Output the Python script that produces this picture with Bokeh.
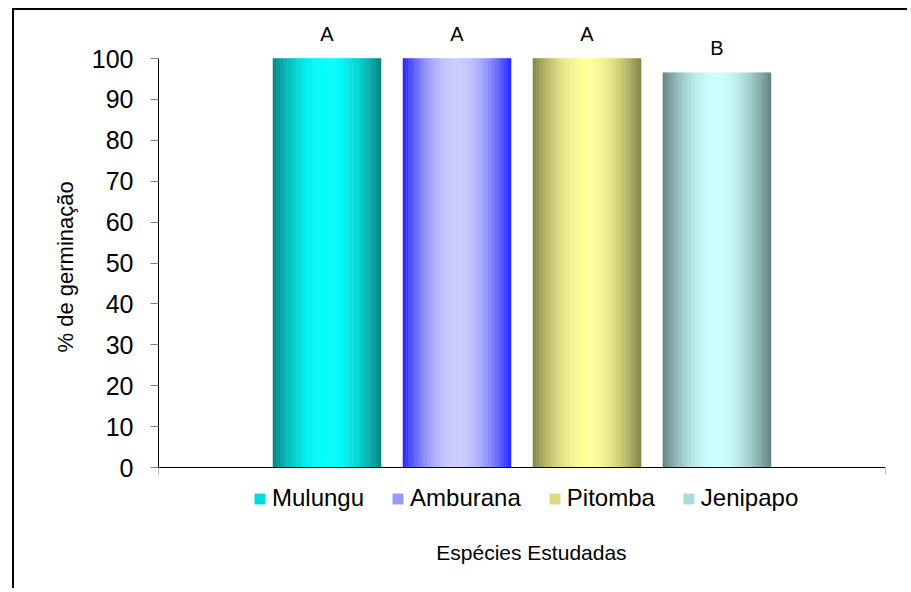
import math
from bokeh.plotting import figure
from bokeh.models import (Range1d, FixedTicker, Legend, LegendItem, LabelSet,
                          ColumnDataSource, Label, LinearAxis, Title)
from bokeh.core.properties import value
from bokeh.embed import file_html
from bokeh.resources import INLINE

# ---- data ----
species = ["Mulungu", "Amburana", "Pitomba", "Jenipapo"]
germination = [100, 100, 100, 96.5]
letters = ["A", "A", "A", "B"]
y_ticks = [0, 10, 20, 30, 40, 50, 60, 70, 80, 90, 100]
x_title = "Espécies Estudadas"
y_title = "% de germinação"

# ---- style ----
edge_colors = [(0, 128, 128), (32, 32, 255), (128, 128, 70), (96, 128, 128)]
center_colors = [(0, 255, 255), (204, 204, 255), (255, 255, 153), (204, 255, 255)]
FONT = "Liberation Sans"
bar_w = 0.1486
step = 0.1788
n_slices = 60
PX_PER_UNIT = 4.09

p = figure(width=895, height=580, x_range=Range1d(0, 1),
           y_range=Range1d(-103 / PX_PER_UNIT, 100 + 38 / PX_PER_UNIT),
           output_backend="svg", toolbar_location=None, x_axis_location=None,
           min_border_left=144, min_border_right=24, min_border_top=10,
           min_border_bottom=20)
p.styles = {"margin-left": "12px", "margin-top": "8px",
            "border-left": "2px solid black", "border-top": "2px solid black"}
p.outline_line_color = None
p.xgrid.visible = False
p.ygrid.visible = False
p.background_fill_color = "white"
p.border_fill_color = "white"


def hexc(c):
    return "#%02x%02x%02x" % tuple(int(round(v)) for v in c)


legend_items = []
centers = []
for i, (name, val) in enumerate(zip(species, germination)):
    cx = 0.5 + (i - (len(species) - 1) / 2) * step
    centers.append(cx)
    lefts, rights, cols = [], [], []
    for k in range(n_slices):
        t = (k + 0.5) / n_slices
        f = math.sin(math.pi * t) ** 0.9
        c = [e + (m - e) * f for e, m in zip(edge_colors[i], center_colors[i])]
        lefts.append(cx - bar_w / 2 + k * bar_w / n_slices)
        rights.append(cx - bar_w / 2 + (k + 1) * bar_w / n_slices)
        cols.append(hexc(c))
    src = ColumnDataSource(dict(left=lefts, right=rights, top=[val] * n_slices,
                                bottom=[0] * n_slices, color=cols))
    r = p.quad(left="left", right="right", top="top", bottom="bottom", source=src,
               fill_color="color", line_color="color", line_width=0.5)
    legend_items.append(LegendItem(label=name, renderers=[r], index=14))

lab_src = ColumnDataSource(dict(x=centers, y=germination, t=letters))
p.add_layout(LabelSet(x="x", y="y", text="t", source=lab_src, text_align="center",
                      text_baseline="middle", y_offset=25, text_font=value(FONT),
                      text_font_size=value("20px"), text_color="black"))

# y axis
ya = p.yaxis[0]
ya.ticker = FixedTicker(ticks=y_ticks)
ya.bounds = (0, 100)
ya.major_tick_in = 0
ya.major_tick_out = 8
ya.major_tick_line_color = "#808080"
ya.minor_tick_line_color = None
ya.axis_line_color = "black"
ya.major_label_text_font = FONT
ya.major_label_text_font_size = "25px"
ya.major_label_text_color = "black"
ya.major_label_standoff = 17

# y title, placed so it is centred on the 0-100 axis
p.add_layout(Title(text=y_title, align="left", offset=218, standoff=22,
                   text_font=FONT, text_font_size="22px",
                   text_font_style="normal", text_color="black"), "left")

# x axis at y = 0
xa = LinearAxis(fixed_location=0, ticker=FixedTicker(ticks=[0, 1]),
                major_label_overrides={0: "", 1: ""},
                major_label_text_font_size="1px", major_tick_in=0,
                major_tick_out=7, major_tick_line_color="#808080",
                minor_tick_line_color=None, axis_line_color="black")
p.add_layout(xa, "below")

legend = Legend(items=legend_items, orientation="horizontal", location=(95, 58),
                border_line_color=None, background_fill_alpha=0,
                glyph_width=13, glyph_height=13, label_standoff=6, spacing=27,
                padding=0, margin=0, label_text_font=FONT,
                label_text_font_size="24px", label_text_color="black")
p.add_layout(legend)

p.add_layout(Label(x=0.513, y=-85 / PX_PER_UNIT, text=x_title, text_align="center",
                   text_baseline="middle", text_font=FONT, text_font_size="21px",
                   text_color="black"))

open("out.html", "w").write(file_html(p, INLINE))
